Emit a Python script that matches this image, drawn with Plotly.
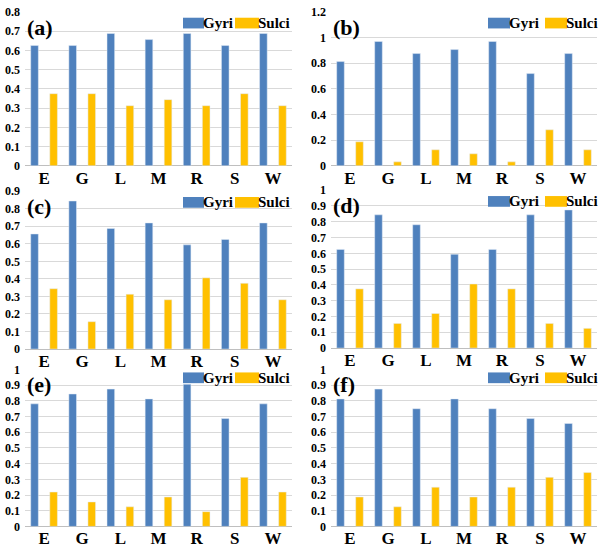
import plotly.graph_objects as go

categories = ["E", "G", "L", "M", "R", "S", "W"]

gyri_a = [0.625, 0.625, 0.6875, 0.656, 0.6875, 0.625, 0.6875]
sulci_a = [0.375, 0.375, 0.3125, 0.344, 0.3125, 0.375, 0.3125]
gyri_b = [0.8125, 0.969, 0.875, 0.906, 0.969, 0.719, 0.875]
sulci_b = [0.1875, 0.031, 0.125, 0.094, 0.031, 0.281, 0.125]
gyri_c = [0.656, 0.844, 0.6875, 0.719, 0.594, 0.625, 0.719]
sulci_c = [0.344, 0.156, 0.3125, 0.281, 0.406, 0.375, 0.281]
gyri_d = [0.625, 0.844, 0.781, 0.594, 0.625, 0.844, 0.875]
sulci_d = [0.375, 0.156, 0.219, 0.406, 0.375, 0.156, 0.125]
gyri_e = [0.781, 0.844, 0.875, 0.8125, 0.906, 0.6875, 0.781]
sulci_e = [0.219, 0.156, 0.125, 0.1875, 0.094, 0.3125, 0.219]
gyri_f = [0.8125, 0.875, 0.75, 0.8125, 0.75, 0.6875, 0.656]
sulci_f = [0.1875, 0.125, 0.25, 0.1875, 0.25, 0.3125, 0.344]

panel_labels = ["(a)", "(b)", "(c)", "(d)", "(e)", "(f)"]
y_max = [0.8, 1.2, 0.9, 1.0, 1.0, 1.0]
y_step = [0.1, 0.2, 0.1, 0.1, 0.1, 0.1]

gyri_all = [gyri_a, gyri_b, gyri_c, gyri_d, gyri_e, gyri_f]
sulci_all = [sulci_a, sulci_b, sulci_c, sulci_d, sulci_e, sulci_f]

W, H = 600, 549
BLUE = "#4F81BD"
YELLOW = "#FFC000"
FONT = "Liberation Serif"

def X(px):
    return px / W

def Y(py):
    return 1 - py / H

# pixel boxes of plot areas: (left, right, top, bottom)
boxes = [
    (25, 292, 5, 163), (331, 597, 5, 163),
    (25, 292, 189, 351), (331, 597, 188, 350),
    (25, 292, 372, 533), (331, 597, 372, 533),
]

fig = go.Figure()
shapes = []
annotations = []

for i in range(6):
    xa = "x" if i == 0 else f"x{i+1}"
    ya = "y" if i == 0 else f"y{i+1}"
    fig.add_trace(go.Bar(x=categories, y=gyri_all[i], name="Gyri", marker_color=BLUE,
                         width=0.2, offset=-0.35, xaxis=xa, yaxis=ya, showlegend=False))
    fig.add_trace(go.Bar(x=categories, y=sulci_all[i], name="Sulci", marker_color=YELLOW,
                         width=0.2, offset=0.15, xaxis=xa, yaxis=ya, showlegend=False))
    l, r, t, b = boxes[i]
    xkey = "xaxis" if i == 0 else f"xaxis{i+1}"
    ykey = "yaxis" if i == 0 else f"yaxis{i+1}"
    fig.layout[xkey] = dict(domain=[X(l), X(r)], anchor=ya, showgrid=False,
                            tickfont=dict(family=FONT, size=17, color="black", weight="bold"),
                            showline=False, ticks="", fixedrange=True)
    fig.layout[ykey] = dict(domain=[Y(b), Y(t)], anchor=xa, range=[0, y_max[i]],
                            dtick=y_step[i], tick0=0, showgrid=True, gridcolor="#D9D9D9",
                            gridwidth=1, zeroline=True, zerolinecolor="#BFBFBF", zerolinewidth=1,
                            tickfont=dict(family=FONT, size=12, color="black", weight="bold"),
                            ticks="", showline=False, fixedrange=True, ticklabelstandoff=4)
    annotations.append(dict(text=panel_labels[i], x=X(l), y=Y(t + 1), xref="paper", yref="paper",
                            xanchor="left", yanchor="top", showarrow=False,
                            font=dict(family=FONT, size=22, color="black", weight="bold")))
    if l < 300:
        bx = [183, 204, 235, 259]
    else:
        bx = [488, 510, 545, 567]
    ly0 = t + 6 if i < 4 else t + 3
    ly1 = ly0 + 11
    shapes.append(dict(type="rect", xref="paper", yref="paper", x0=X(bx[0]), x1=X(bx[1]),
                       y0=Y(ly1), y1=Y(ly0), fillcolor=BLUE, line=dict(width=0)))
    shapes.append(dict(type="rect", xref="paper", yref="paper", x0=X(bx[2]), x1=X(bx[3]),
                       y0=Y(ly1), y1=Y(ly0), fillcolor=YELLOW, line=dict(width=0)))
    annotations.append(dict(text="Gyri", x=X(bx[1]), y=Y((ly0 + ly1) / 2), xref="paper", yref="paper",
                            xanchor="left", yanchor="middle", showarrow=False, xshift=-3,
                            font=dict(family=FONT, size=15, color="black", weight="bold")))
    annotations.append(dict(text="Sulci", x=X(bx[3]), y=Y((ly0 + ly1) / 2), xref="paper", yref="paper",
                            xanchor="left", yanchor="middle", showarrow=False, xshift=-3,
                            font=dict(family=FONT, size=15, color="black", weight="bold")))

fig.update_layout(width=W, height=H, margin=dict(l=0, r=0, t=0, b=0),
                  paper_bgcolor="white", plot_bgcolor="white", barmode="overlay",
                  shapes=shapes, annotations=annotations)

fig.write_html("out.html", config={"displayModeBar": False},
               post_script="document.body.style.margin='0';document.body.style.overflow='hidden';")
